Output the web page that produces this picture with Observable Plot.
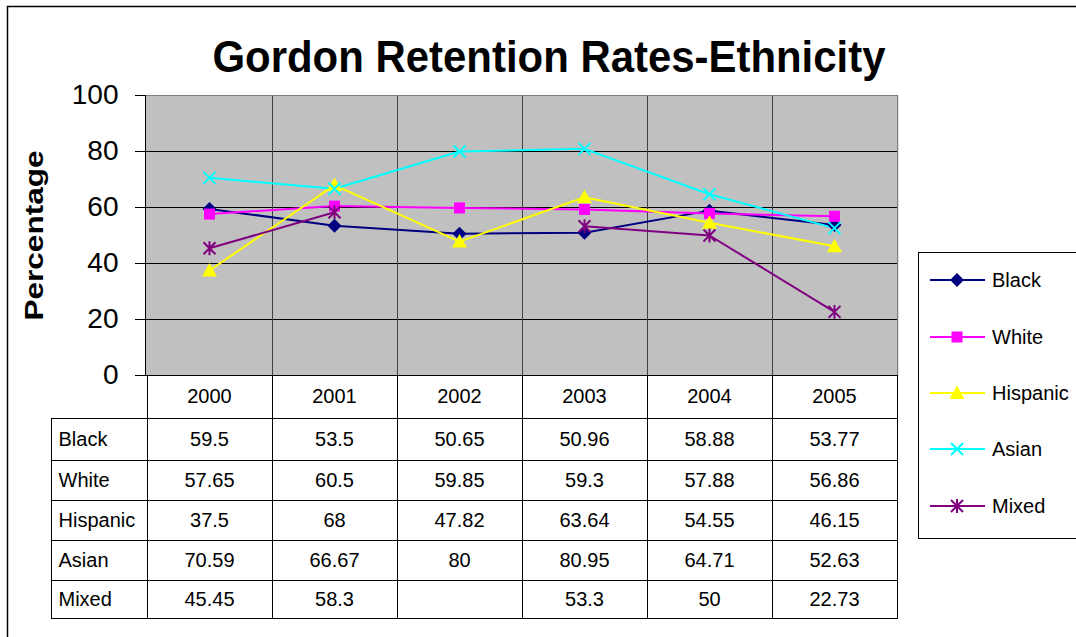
<!DOCTYPE html>
<html><head><meta charset="utf-8">
<script src="https://cdn.jsdelivr.net/npm/d3@7"></script>
<script src="https://cdn.jsdelivr.net/npm/@observablehq/plot@0.6"></script>
<style>
body{margin:0;background:#fff;}
#chart{position:relative;width:1076px;height:637px;overflow:hidden;background:#fff;}
</style></head><body><div id="chart"></div>
<script>
// ---- data ----
const years = ["2000","2001","2002","2003","2004","2005"];
const black    = [59.5, 53.5, 50.65, 50.96, 58.88, 53.77];
const white    = [57.65, 60.5, 59.85, 59.3, 57.88, 56.86];
const hispanic = [37.5, 68, 47.82, 63.64, 54.55, 46.15];
const asian    = [70.59, 66.67, 80, 80.95, 64.71, 52.63];
const mixed    = [45.45, 58.3, null, 53.3, 50, 22.73];
const seriesNames = ["Black","White","Hispanic","Asian","Mixed"];
const seriesValues = [black, white, hispanic, asian, mixed];
const yTicks = [0, 20, 40, 60, 80, 100];
const titleText = "Gordon Retention Rates-Ethnicity";
const yLabel = "Percentage";

// ---- styles ----
const colors = ["#000080","#FF00FF","#FFFF00","#00FFFF","#800080"];
const mk = f => ({draw(c, size){ f(c, Math.sqrt(size/Math.PI)); }});
const diamondSym = mk((c,r)=>{c.moveTo(0,-r);c.lineTo(r,0);c.lineTo(0,r);c.lineTo(-r,0);c.closePath();});
const squareSym = mk((c,r)=>{c.moveTo(-r,-r);c.lineTo(r,-r);c.lineTo(r,r);c.lineTo(-r,r);c.closePath();});
const triangleSym = mk((c,r)=>{c.moveTo(0,-r);c.lineTo(r,r*0.8);c.lineTo(-r,r*0.8);c.closePath();});
const timesSym = mk((c,r)=>{c.moveTo(-r,-r);c.lineTo(r,r);c.moveTo(r,-r);c.lineTo(-r,r);});
const asteriskSym = mk((c,r)=>{c.moveTo(-r,-r);c.lineTo(r,r);c.moveTo(r,-r);c.lineTo(-r,r);c.moveTo(0,-r*1.15);c.lineTo(0,r*1.15);});
const markers = [
  {symbol: diamondSym, r: 7, filled: true},
  {symbol: squareSym, r: 5.5, filled: true},
  {symbol: triangleSym, r: 7.5, filled: true},
  {symbol: timesSym, r: 6, filled: false},
  {symbol: asteriskSym, r: 6, filled: false}
];

// table layout (screen rows below the plot)
const tableLeft = 51;
const rowLines = [418, 460, 500, 540, 580, 618];
const headerCenter = 396;
const rowCenters = [439, 480, 520, 560, 599];

const W = 1076, H = 637;
const mL = 145, mR = 178, mT = 95, mB = 262;

function plotDecor(index, scales, values, dims) {
  const x = scales.x;
  const step = x(years[1]) - x(years[0]);
  const top = dims.marginTop, bottom = dims.height - dims.marginBottom;
  const g = d3.create("svg:g").attr("fill","none").attr("shape-rendering","crispEdges");
  years.slice(1).forEach(yr => {
    const b = Math.round(x(yr) - step/2) + 0.5;
    g.append("line").attr("x1",b).attr("x2",b).attr("y1",top).attr("y2",bottom).attr("stroke","#404040");
  });
  return g.node();
}

function plotBorder(index, scales, values, dims) {
  const left = dims.marginLeft, right = dims.width - dims.marginRight;
  const top = dims.marginTop, bottom = dims.height - dims.marginBottom;
  const g = d3.create("svg:g").attr("fill","none").attr("shape-rendering","crispEdges");
  g.append("path").attr("d",`M${left+0.5},${top+0.5}H${right-0.5}V${bottom}`).attr("stroke","#808080").attr("stroke-width",1.5);
  g.append("path").attr("d",`M${left+0.5},${top}V${bottom+0.5}H${right}`).attr("stroke","#000");
  return g.node();
}

function tableGrid(index, scales, values, dims) {
  const x = scales.x;
  const step = x(years[1]) - x(years[0]);
  const bottom = dims.height - dims.marginBottom;
  const tBottom = rowLines[rowLines.length-1];
  const g = d3.create("svg:g").attr("fill","none").attr("stroke","#000").attr("shape-rendering","crispEdges");
  const bounds = years.map(yr => x(yr) - step/2).concat([x(years[years.length-1]) + step/2]);
  bounds.forEach(b => {
    const bx = Math.round(b) + 0.5;
    g.append("line").attr("x1",bx).attr("x2",bx).attr("y1",bottom).attr("y2",tBottom);
  });
  g.append("line").attr("x1",tableLeft+0.5).attr("x2",tableLeft+0.5).attr("y1",rowLines[0]).attr("y2",tBottom);
  rowLines.forEach(ry => {
    g.append("line").attr("x1",tableLeft).attr("x2",Math.round(bounds[bounds.length-1])+1).attr("y1",ry+0.5).attr("y2",ry+0.5);
  });
  return g.node();
}

function outerDecor(index, scales, values, dims) {
  const g = d3.create("svg:g");
  g.append("path").attr("d",`M7.5,${dims.height}V6.5H${dims.width}`).attr("fill","none").attr("stroke","#000").attr("stroke-width",1.5);
  // legend
  const lg = g.append("g");
  lg.append("rect").attr("x",918.5).attr("y",252.5).attr("width",200).attr("height",286).attr("fill","#fff").attr("stroke","#000").attr("shape-rendering","crispEdges");
  const legendY = [280, 337, 393, 449, 506];
  seriesNames.forEach((name, i) => {
    const y = legendY[i];
    lg.append("line").attr("x1",930).attr("x2",985).attr("y1",y).attr("y2",y).attr("stroke",colors[i]).attr("stroke-width",2);
    const m = markers[i];
    lg.append("path").attr("transform",`translate(957,${y})`)
      .attr("d", d3.symbol(m.symbol, m.r*m.r*Math.PI)())
      .attr("fill", m.filled ? colors[i] : "none")
      .attr("stroke", m.filled ? "none" : colors[i]).attr("stroke-width", 2);
    lg.append("text").attr("x",992).attr("y",y).attr("dy","0.35em").attr("text-anchor","start")
      .attr("font-size",20).attr("fill","#000").text(name);
  });
  return g.node();
}

const marks = [
  Plot.frame({fill:"#C0C0C0", stroke:null}),
  Plot.ruleY(yTicks.filter(t => t > 0 && t < 100), {stroke:"#000", strokeWidth:1}),
  plotDecor,
  plotBorder,
  Plot.axisY(yTicks, {tickSize: 10, tickPadding: 17, fontSize: 28, label: null, stroke:"#000"}),
];
seriesValues.forEach((vals, i) => {
  marks.push(Plot.line(years, {x: years, y: vals, stroke: colors[i], strokeWidth: 2}));
});
seriesValues.forEach((vals, i) => {
  const m = markers[i];
  marks.push(Plot.dot(years, {x: years, y: vals, symbol: m.symbol, r: m.r,
    fill: m.filled ? colors[i] : "none", stroke: m.filled ? "none" : colors[i], strokeWidth: 2}));
});
marks.push(tableGrid);
const base = H - mB;
marks.push(Plot.text(years, {x: years, text: years, frameAnchor: "bottom", lineAnchor: "middle", dy: headerCenter - base, fontSize: 20, fill:"#000"}));
seriesValues.forEach((vals, i) => {
  const dy = rowCenters[i] - base;
  marks.push(Plot.text([seriesNames[i]], {frameAnchor: "bottom-left", lineAnchor: "middle", dx: 58 - mL, dy, textAnchor: "start", fontSize: 20, fill:"#000"}));
  marks.push(Plot.text(years, {x: years, text: vals.map(v => v == null ? "" : String(v)), frameAnchor: "bottom", lineAnchor: "middle", dy, fontSize: 20, fill:"#000"}));
});
marks.push(Plot.text([yLabel], {frameAnchor: "left", textAnchor: "middle", lineAnchor: "middle", dx: 34 - mL, rotate: -90, fontSize: 26, fontWeight: "bold", fill:"#000"}));
marks.push(Plot.text([titleText], {frameAnchor: "top", lineAnchor: "middle", dx: 548.5 - (mL + (W - mR))/2, dy: -38, fontSize: 44, fontWeight: "bold", fill:"#000"}));
marks.push(outerDecor);

const chart = Plot.plot({
  width: W, height: H,
  marginLeft: mL, marginRight: mR, marginTop: mT, marginBottom: mB,
  x: {type: "point", domain: years, padding: 0.5, axis: null},
  y: {domain: [0, 100]},
  style: {fontFamily: "'Liberation Sans', Arial, sans-serif", background: "#fff", color: "#000"},
  marks
});
document.getElementById("chart").appendChild(chart);
// stretch title & axis label to match the reference widths
d3.select(chart).selectAll("text").each(function(){
  const t = this.textContent;
  if (t === titleText) d3.select(this).attr("textLength", 673).attr("lengthAdjust","spacingAndGlyphs");
  if (t === yLabel) d3.select(this).attr("textLength", 170).attr("lengthAdjust","spacingAndGlyphs");
});
</script></body></html>
